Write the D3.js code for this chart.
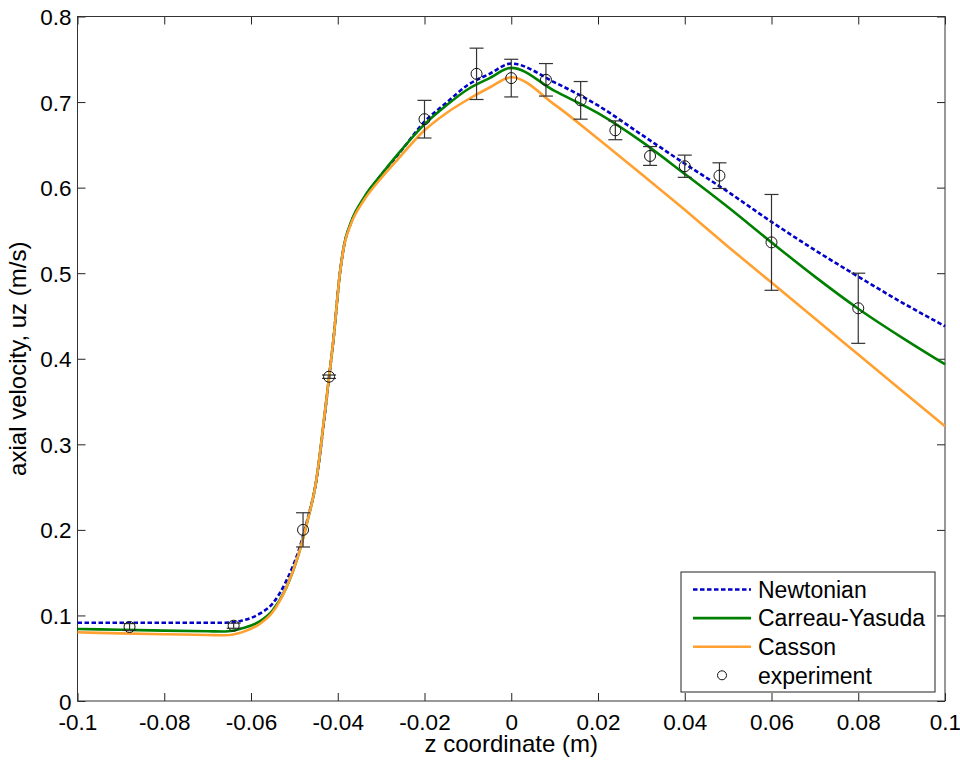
<!DOCTYPE html>
<html>
<head>
<meta charset="utf-8">
<script src="https://cdn.jsdelivr.net/npm/d3@7"></script>
<style>
  body { margin: 0; background: #fff; }
  svg { display: block; font-family: Arial, "Liberation Sans", sans-serif; }
</style>
</head>
<body>
<div id="plot-container"></div>
<script>
// model curves, all sampled on the same z positions
var zModel = [-0.1, -0.09, -0.08, -0.07, -0.066, -0.062, -0.058, -0.055, -0.052, -0.049, -0.047, -0.045,
              -0.043, -0.042, -0.041, -0.0395, -0.0385, -0.037, -0.034, -0.03, -0.026, -0.02, -0.015,
              -0.01, -0.005, 0, 0.01, 0.02, 0.03, 0.04, 0.05, 0.06, 0.07, 0.08, 0.09, 0.1];

var newtonian = [0.0915, 0.0915, 0.0915, 0.0915, 0.0915, 0.094, 0.102, 0.114, 0.139, 0.176, 0.212, 0.256,
                 0.334, 0.378, 0.422, 0.500, 0.533, 0.558, 0.587, 0.615, 0.639, 0.677, 0.699,
                 0.720, 0.733, 0.745, 0.723, 0.696, 0.662, 0.628, 0.595, 0.560, 0.527, 0.496, 0.466, 0.438];

var carreau = [0.0842, 0.0832, 0.0822, 0.0815, 0.0812, 0.085, 0.093, 0.106, 0.131, 0.172, 0.210, 0.256,
               0.336, 0.379, 0.422, 0.500, 0.534, 0.559, 0.588, 0.615, 0.640, 0.674, 0.696,
               0.715, 0.728, 0.740, 0.713, 0.687, 0.654, 0.616, 0.577, 0.536, 0.496, 0.4585, 0.425, 0.3935];

var casson = [0.0803, 0.079, 0.078, 0.0772, 0.0768, 0.0805, 0.090, 0.104, 0.131, 0.172, 0.210, 0.256,
              0.336, 0.379, 0.422, 0.500, 0.533, 0.557, 0.585, 0.611, 0.634, 0.667, 0.687,
              0.703, 0.717, 0.729, 0.697, 0.657, 0.616, 0.574, 0.531, 0.489, 0.447, 0.405, 0.363, 0.321];

// measured points with error bars
var zExp   = [-0.088, -0.064, -0.048, -0.042, -0.02, -0.008, 0, 0.008, 0.016, 0.024, 0.032, 0.04, 0.048, 0.06, 0.08];
var uzExp  = [0.0865, 0.088, 0.200, 0.379, 0.680, 0.733, 0.728, 0.726, 0.702, 0.667, 0.637, 0.625, 0.614, 0.536, 0.459];
var errExp = [0.004, 0.003, 0.020, 0.002, 0.022, 0.030, 0.022, 0.019, 0.022, 0.011, 0.011, 0.013, 0.015, 0.056, 0.041];

var xTicks = [-0.1, -0.08, -0.06, -0.04, -0.02, 0, 0.02, 0.04, 0.06, 0.08, 0.1];
var yTicks = [0, 0.1, 0.2, 0.3, 0.4, 0.5, 0.6, 0.7, 0.8];

var seriesNames = ["Newtonian", "Carreau-Yasuda", "Casson", "experiment"];
var seriesColors = ["#0000c8", "#008000", "#ffa030", "#000"];

// plot parameters
var width = 960, height = 762;
var mLeft = 77.5, mRight = 945, mTop = 16.5, mBottom = 701;

var xScale = d3.scaleLinear().domain([-0.1, 0.1]).range([mLeft, mRight]);
var yScale = d3.scaleLinear().domain([0, 0.8]).range([mBottom, mTop]);

var svg = d3.select("#plot-container")
            .append("svg")
            .attr("width", width)
            .attr("height", height);

// plain hyphen minus like the original
function fmt(d) { return String(+d.toFixed(2)); }

// axes, ticks pointing inward on all four sides
svg.append("g")
   .attr("class", "ax-b")
   .attr("transform", "translate(0," + mBottom + ")")
   .call(d3.axisBottom(xScale).tickValues(xTicks).tickSizeInner(-8).tickSizeOuter(0).tickFormat(fmt));
svg.append("g")
   .attr("transform", "translate(0," + mTop + ")")
   .call(d3.axisTop(xScale).tickValues(xTicks).tickSizeInner(-8).tickSizeOuter(0).tickFormat(""));
svg.append("g")
   .attr("class", "ax-l")
   .attr("transform", "translate(" + mLeft + ",0)")
   .call(d3.axisLeft(yScale).tickValues(yTicks).tickSizeInner(-8).tickSizeOuter(0).tickFormat(fmt));
svg.append("g")
   .attr("transform", "translate(" + mRight + ",0)")
   .call(d3.axisRight(yScale).tickValues(yTicks).tickSizeInner(-8).tickSizeOuter(0).tickFormat(""));

svg.selectAll(".domain").remove();
svg.selectAll(".tick line").attr("stroke", "#222");
svg.selectAll(".tick text").attr("fill", "#000").style("font-size", "22.5px");
svg.selectAll(".ax-b .tick text").attr("y", 13).attr("dy", "0.71em");
svg.selectAll(".ax-l .tick text").attr("x", -6).attr("dy", "0.36em");

// box
svg.append("rect")
   .attr("x", mLeft).attr("y", mTop)
   .attr("width", mRight - mLeft).attr("height", mBottom - mTop)
   .attr("fill", "none").attr("stroke", "#333").attr("stroke-width", 1);

// model lines
var line = d3.line()
             .x(function(d){ return xScale(d[0]); })
             .y(function(d){ return yScale(d[1]); })
             .curve(d3.curveMonotoneX);

var models = [newtonian, carreau, casson];
models.forEach(function(vals, i){
  svg.append("path")
     .datum(zModel.map(function(z, j){ return [z, vals[j]]; }))
     .attr("d", line)
     .attr("fill", "none")
     .attr("stroke", seriesColors[i])
     .attr("stroke-width", 2.6)
     .attr("stroke-dasharray", i == 0 ? "4.5,2.5" : null);
});

// error bars and circles
var exp = zExp.map(function(z, i){ return {z: z, u: uzExp[i], e: errExp[i]}; });

var eb = svg.append("g").attr("stroke", "#333").attr("stroke-width", 1.2);
eb.selectAll("line.v").data(exp).enter().append("line")
  .attr("x1", function(d){ return xScale(d.z); })
  .attr("x2", function(d){ return xScale(d.z); })
  .attr("y1", function(d){ return yScale(d.u - d.e); })
  .attr("y2", function(d){ return yScale(d.u + d.e); });
eb.selectAll("line.lo").data(exp).enter().append("line")
  .attr("x1", function(d){ return xScale(d.z) - 7; })
  .attr("x2", function(d){ return xScale(d.z) + 7; })
  .attr("y1", function(d){ return yScale(d.u - d.e); })
  .attr("y2", function(d){ return yScale(d.u - d.e); });
eb.selectAll("line.hi").data(exp).enter().append("line")
  .attr("x1", function(d){ return xScale(d.z) - 7; })
  .attr("x2", function(d){ return xScale(d.z) + 7; })
  .attr("y1", function(d){ return yScale(d.u + d.e); })
  .attr("y2", function(d){ return yScale(d.u + d.e); });

svg.selectAll("circle.exp").data(exp).enter().append("circle")
   .attr("class", "exp")
   .attr("cx", function(d){ return xScale(d.z); })
   .attr("cy", function(d){ return yScale(d.u); })
   .attr("r", 5.5)
   .attr("fill", "none")
   .attr("stroke", "#111")
   .attr("stroke-width", 1);

// axis labels
svg.append("text")
   .attr("x", (mLeft + mRight) / 2).attr("y", 752)
   .attr("text-anchor", "middle")
   .style("font-size", "24px")
   .text("z coordinate (m)");
svg.append("text")
   .attr("transform", "translate(26," + ((mTop + mBottom) / 2) + ") rotate(-90)")
   .attr("text-anchor", "middle")
   .style("font-size", "24px")
   .text("axial velocity, uz (m/s)");

// legend
var lg = svg.append("g").attr("transform", "translate(681,572)");
lg.append("rect")
  .attr("width", 254).attr("height", 120)
  .attr("fill", "#fff").attr("stroke", "#222").attr("stroke-width", 1);

var rowH = 28.6;
seriesNames.forEach(function(name, i){
  var y = 17.5 + i * rowH;
  if (i < 3) {
    lg.append("line")
      .attr("x1", 12).attr("x2", 70).attr("y1", y).attr("y2", y)
      .attr("stroke", seriesColors[i]).attr("stroke-width", 2.6)
      .attr("stroke-dasharray", i == 0 ? "4.5,2.5" : null);
  } else {
    lg.append("circle")
      .attr("cx", 41).attr("cy", y).attr("r", 4.5)
      .attr("fill", "none").attr("stroke", "#111").attr("stroke-width", 1);
  }
  lg.append("text")
    .attr("x", 77).attr("y", y).attr("dy", "0.36em")
    .style("font-size", "23px")
    .text(name);
});
</script>
</body>
</html>
